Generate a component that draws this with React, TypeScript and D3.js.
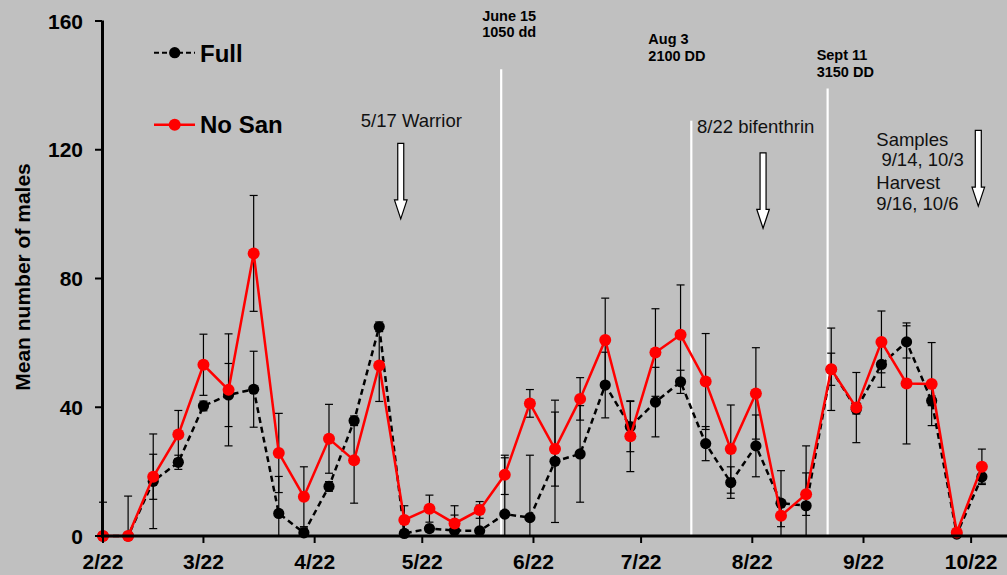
import * as d3 from "d3";
import React, { useEffect, useRef } from "react";

// weekly trap checks (mean males per trap +/- SE)
const sampleDates = [
    "2/22", "3/1", "3/8", "3/15", "3/22", "3/29", "4/5", "4/12", "4/19", "4/26",
    "5/3", "5/10", "5/17", "5/24", "5/31", "6/7", "6/14", "6/21", "6/28", "7/5",
    "7/12", "7/19", "7/26", "8/2", "8/9", "8/16", "8/23", "8/30", "9/6", "9/13",
    "9/20", "9/27", "10/4", "10/11", "10/18", "10/25"
];
const fullMeans = [
    0, 0, 17.0, 22.9, 40.4, 43.8, 45.6, 7.0, 1.0, 15.4,
    35.8, 65.0, 0.8, 2.3, 1.7, 1.6, 6.8, 5.7, 23.2, 25.5,
    46.9, 34.0, 41.6, 47.9, 28.7, 16.6, 28.0, 10.2, 9.4, 51.8,
    39.4, 53.3, 60.3, 42.0, 0.6, 18.4
];
const fullSE = [
    10.5, 12.4, 14.7, 2.2, 1.5, 9.8, 11.8, 11.5, 1.5, 1.5,
    1.5, 1.5, 1, 1, 4.8, 8.0, 17.5, 19.4, 19, 15,
    10.2, 7.8, 10.8, 3.6, 5.3, 4.9, 9.6, 10.1, 18.6, 5,
    1.5, 7.1, 5, 1.5, 0.5, 2
];
const noSanMeans = [
    0, 0, 18.4, 31.5, 53.2, 45.4, 87.8, 25.8, 12.2, 30.2,
    23.5, 53.0, 5.0, 8.5, 3.9, 8.1, 19.0, 41.2, 27.0, 42.6,
    60.9, 31.0, 57.0, 62.5, 48.0, 27.0, 44.3, 6.3, 13.0, 51.8,
    39.9, 60.3, 47.4, 47.2, 1.1, 21.5
];
const noSanSE = [
    0, 0, 7, 7.5, 9.5, 17.4, 18, 12.3, 9.3, 10.7,
    13.3, 11.2, 4.4, 4.2, 5.5, 2.6, 6.1, 4.3, 11.5, 6.6,
    13, 11, 13.6, 15.5, 14.9, 13.7, 14.2, 3.4, 6.6, 12.8,
    10.9, 9.6, 18.8, 12.9, 0.5, 5.5
];

const monthTicks = ["2/22", "3/22", "4/22", "5/22", "6/22", "7/22", "8/22", "9/22", "10/22"];
const yTicks = [0, 40, 80, 120, 160];

// degree-day markers (white lines)
const ddLines = [
    { date: "6/13", top: 145, lines: ["June 15", "1050 dd"], dx: -19, ys: [21, 37] },
    { date: "8/5", top: 129, lines: ["Aug 3", "2100 DD"], dx: -43, ys: [44, 61] },
    { date: "9/12", top: 139, lines: ["Sept 11", "3150 DD"], dx: -11, ys: [60, 77] },
];

// spray / harvest arrows
const arrows = [
    { date: "5/16", top: 122, tip: 98.5, lines: ["5/17 Warrior"], dx: -40, ys: [127] },
    { date: "8/25", top: 119, tip: 95.6, lines: ["8/22 bifenthrin"], dx: -66, ys: [133] },
    { date: "10/24", top: 126, tip: 102.5, lines: ["Samples", " 9/14, 10/3", "Harvest", "9/16, 10/6"], dx: -102, ys: [146, 166, 189, 210] },
];

const W = 1007;
const H = 575;
const FONT = "Arial, 'Liberation Sans', sans-serif";

const parseDate = (s: string) => d3.timeParse("%m/%d/%Y")(s + "/2013") as Date;

function App() {
    const svgRef: any = useRef<any>(null);

    useEffect(() => {
        drawChart();
    }, []);

    const drawChart = () => {
        const svg = d3.select(svgRef.current);
        svg.selectAll("*").remove();

        const x = d3.scaleTime()
            .domain([parseDate("2/22"), parseDate("11/1")])
            .range([103, W]);
        const y = d3.scaleLinear().domain([0, 160]).range([536, 21]);

        svg.append("rect").attr("width", W).attr("height", H).attr("fill", "#c0c0c0");

        // white degree-day lines
        ddLines.forEach(d => {
            const lx = x(parseDate(d.date));
            svg.append("line")
                .attr("x1", lx).attr("x2", lx)
                .attr("y1", y(d.top)).attr("y2", y(0))
                .attr("stroke", "#fff").attr("stroke-width", 2.2);
            d.lines.forEach((t, i) => {
                svg.append("text")
                    .attr("x", lx + d.dx).attr("y", d.ys[i])
                    .attr("font-family", FONT).attr("font-weight", "bold")
                    .attr("font-size", 14.5).attr("fill", "#000")
                    .text(t);
            });
        });

        // arrows + labels
        arrows.forEach(a => {
            const cx = x(parseDate(a.date));
            const t0 = y(a.top);
            const tip = y(a.tip);
            const hb = tip - 19;
            svg.append("path")
                .attr("d", `M${cx - 3},${t0}L${cx + 3},${t0}L${cx + 3},${hb}L${cx + 6.3},${hb}L${cx},${tip}L${cx - 6.3},${hb}L${cx - 3},${hb}Z`)
                .attr("fill", "#fff").attr("stroke", "#000").attr("stroke-width", 1.2);
            a.lines.forEach((t, i) => {
                svg.append("text")
                    .attr("x", cx + a.dx).attr("y", a.ys[i])
                    .attr("font-family", FONT).attr("font-size", 18.5)
                    .attr("fill", "#111")
                    .style("white-space", "pre")
                    .text(t);
            });
        });

        const dates = sampleDates.map(parseDate);

        // error bars
        const drawErr = (means: number[], se: number[]) => {
            const g = svg.append("g").attr("stroke", "#000").attr("stroke-width", 1.2);
            means.forEach((m, i) => {
                if (se[i] <= 0) return;
                const cx = x(dates[i]);
                const hi = y(m + se[i]);
                const lo = y(Math.max(m - se[i], 0));
                g.append("line").attr("x1", cx).attr("x2", cx).attr("y1", hi).attr("y2", lo);
                g.append("line").attr("x1", cx - 4).attr("x2", cx + 4).attr("y1", hi).attr("y2", hi);
                if (m - se[i] > 0) {
                    g.append("line").attr("x1", cx - 4).attr("x2", cx + 4).attr("y1", lo).attr("y2", lo);
                }
            });
        };
        drawErr(fullMeans, fullSE);
        drawErr(noSanMeans, noSanSE);

        const line = d3.line<number>()
            .x((_, i) => x(dates[i]))
            .y(d => y(d));

        // Full: black dashed
        svg.append("path")
            .attr("d", line(fullMeans) as string)
            .attr("fill", "none").attr("stroke", "#000")
            .attr("stroke-width", 2.5).attr("stroke-dasharray", "6,4");
        svg.append("g").selectAll("circle")
            .data(fullMeans).enter().append("circle")
            .attr("cx", (_, i) => x(dates[i])).attr("cy", d => y(d))
            .attr("r", 5.6).attr("fill", "#000");

        // No San: red solid
        svg.append("path")
            .attr("d", line(noSanMeans) as string)
            .attr("fill", "none").attr("stroke", "#ff0000")
            .attr("stroke-width", 2.5);
        svg.append("g").selectAll("circle")
            .data(noSanMeans).enter().append("circle")
            .attr("cx", (_, i) => x(dates[i])).attr("cy", d => y(d))
            .attr("r", 6).attr("fill", "#ff0000");

        // y axis
        const ya = svg.append("g");
        ya.append("line").attr("x1", 102.5).attr("x2", 102.5).attr("y1", y(160) - 0.5).attr("y2", y(0) + 1.5)
            .attr("stroke", "#000").attr("stroke-width", 3);
        yTicks.forEach(v => {
            ya.append("line").attr("x1", 95).attr("x2", 102).attr("y1", y(v)).attr("y2", y(v))
                .attr("stroke", "#000").attr("stroke-width", 2);
            ya.append("text")
                .attr("x", 83).attr("y", y(v) + 7.5)
                .attr("text-anchor", "end")
                .attr("font-family", FONT).attr("font-weight", "bold").attr("font-size", 21)
                .text(v);
        });
        svg.append("text")
            .attr("transform", `translate(30, 277) rotate(-90)`)
            .attr("text-anchor", "middle")
            .attr("font-family", FONT).attr("font-weight", "bold").attr("font-size", 21)
            .text("Mean number of males");

        // x axis
        const xa = svg.append("g");
        xa.append("line").attr("x1", 101).attr("x2", W).attr("y1", y(0)).attr("y2", y(0))
            .attr("stroke", "#000").attr("stroke-width", 3);
        monthTicks.forEach(t => {
            const tx = x(parseDate(t));
            xa.append("line").attr("x1", tx).attr("x2", tx).attr("y1", y(0)).attr("y2", y(0) + 7)
                .attr("stroke", "#000").attr("stroke-width", 2);
            xa.append("text")
                .attr("x", tx).attr("y", 569)
                .attr("text-anchor", "middle")
                .attr("font-family", FONT).attr("font-weight", "bold").attr("font-size", 21)
                .text(t);
        });

        // legend
        const lg = svg.append("g");
        lg.append("line").attr("x1", 154).attr("x2", 195).attr("y1", 52.7).attr("y2", 52.7)
            .attr("stroke", "#000").attr("stroke-width", 2).attr("stroke-dasharray", "5,3");
        lg.append("circle").attr("cx", 174.7).attr("cy", 52.7).attr("r", 5.6).attr("fill", "#000");
        lg.append("text").attr("x", 200).attr("y", 62.3)
            .attr("font-family", FONT).attr("font-weight", "bold").attr("font-size", 24)
            .text("Full");
        lg.append("line").attr("x1", 154).attr("x2", 195).attr("y1", 124.7).attr("y2", 124.7)
            .attr("stroke", "#ff0000").attr("stroke-width", 2.5);
        lg.append("circle").attr("cx", 174.7).attr("cy", 124.7).attr("r", 6).attr("fill", "#ff0000");
        lg.append("text").attr("x", 200).attr("y", 133.3)
            .attr("font-family", FONT).attr("font-weight", "bold").attr("font-size", 24)
            .text("No San");
    };

    return (
        <svg
            ref={svgRef}
            width={W}
            height={H}
            style={{ position: "absolute", left: 0, top: 0 }}
        />
    );
}

export default App;
